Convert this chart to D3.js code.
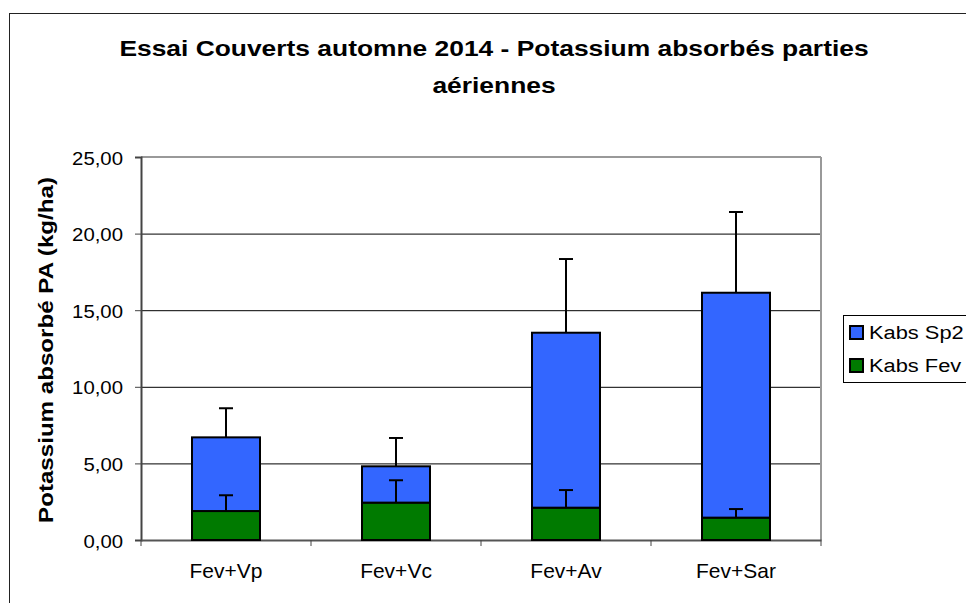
<!DOCTYPE html>
<html>
  <head>
    <meta charset="UTF-8">
    <script src="https://d3js.org/d3.v7.min.js"></script>
    <style>
      body { margin: 0; background: #fff; }
      #svg { display: block; font-family: "Liberation Sans", Arial, sans-serif; }
      .gridlines line { stroke: #000; }
      .gridlines .domain { stroke: none; }
    </style>
    <title>Essai Couverts automne 2014</title>
  </head>
  <body>
    <svg id="svg" width="966" height="603"></svg>
    <script>
      // data
      const categories = ["Fev+Vp", "Fev+Vc", "Fev+Av", "Fev+Sar"];
      const kabsFev = [1.89, 2.44, 2.11, 1.46];
      const kabsSp2 = [4.81, 2.37, 11.42, 14.68];
      const errFev = [1.03, 1.46, 1.15, 0.56];
      const errSp2 = [1.90, 1.85, 4.81, 5.27];
      const yTicks = [0, 5, 10, 15, 20, 25];
      const seriesNames = ["Kabs Sp2", "Kabs Fev"];
      const seriesColors = ["#3366ff", "#007a00"];

      const svg = d3.select("svg#svg");
      const margin = {left: 141, top: 157, right: 821, bottom: 540};
      const FONT = "Liberation Sans, Arial, sans-serif";

      // outer chart frame
      svg.append("rect")
        .attr("x", 9.5).attr("y", 13.5)
        .attr("width", 980).attr("height", 620)
        .attr("fill", "none").attr("stroke", "#222").attr("stroke-width", 1);

      const xScale = d3.scaleBand().domain(categories).range([margin.left, margin.right]).padding(0);
      const yScale = d3.scaleLinear().domain([0, 25]).range([margin.bottom, margin.top]);
      const barW = 68;

      // gridlines
      svg.append("g")
        .attr("class", "gridlines")
        .attr("transform", "translate(" + margin.left + ",0)")
        .call(d3.axisLeft(yScale).tickValues(yTicks.slice(1, 5)).tickFormat("").tickSize(-(margin.right - margin.left)));

      // plot border top / right (gray)
      svg.append("line").attr("x1", margin.left).attr("x2", margin.right)
        .attr("y1", yScale(25)).attr("y2", yScale(25)).attr("stroke", "#999").attr("stroke-width", 2);
      svg.append("line").attr("x1", margin.right).attr("x2", margin.right)
        .attr("y1", margin.top).attr("y2", margin.bottom).attr("stroke", "#999").attr("stroke-width", 2);

      // y axis
      const fmt = d => d3.format(".2f")(d).replace(".", ",");
      const yAxis = svg.append("g")
        .attr("transform", "translate(" + margin.left + ",0)")
        .call(d3.axisLeft(yScale).tickValues(yTicks).tickFormat(fmt).tickSize(6));
      yAxis.select(".domain").attr("stroke", "#444").attr("stroke-width", 2);
      yAxis.selectAll(".tick line").attr("stroke", "#444");
      yAxis.selectAll("text")
        .attr("x", -18 / 1.1).attr("dy", "0.38em")
        .attr("transform", "scale(1.1,1)")
        .style("font-size", "18.5px").attr("fill", "#000").style("font-family", FONT);

      // x axis
      const xAxis = svg.append("g")
        .attr("transform", "translate(0," + margin.bottom + ")")
        .call(d3.axisBottom(xScale).tickSize(0));
      xAxis.select(".domain").attr("stroke", "#555").attr("stroke-width", 2);
      xAxis.selectAll("text")
        .attr("y", 38).attr("dy", 0)
        .attr("transform", "scale(1.05,1)")
        .style("font-size", "20px").attr("fill", "#000").style("font-family", FONT);
      xAxis.selectAll(".tick").each(function(d) {
        d3.select(this).attr("transform", "translate(" + (xScale(d) + xScale.bandwidth() / 2) / 1 + ",0)");
        d3.select(this).select("text").attr("x", 0);
      });
      // category separator ticks
      xAxis.selectAll(".sep")
        .data(d3.range(categories.length + 1))
        .enter().append("line")
        .attr("x1", i => margin.left + i * xScale.bandwidth())
        .attr("x2", i => margin.left + i * xScale.bandwidth())
        .attr("y1", 0).attr("y2", 6)
        .attr("stroke", "#444");

      // stacked bars
      const plot = svg.append("g");
      const cx = d => xScale(d) + xScale.bandwidth() / 2;

      // Sp2 error bars
      categories.forEach((c, i) => {
        const top = kabsFev[i] + kabsSp2[i];
        plot.append("line").attr("x1", cx(c)).attr("x2", cx(c))
          .attr("y1", yScale(top)).attr("y2", yScale(top + errSp2[i]))
          .attr("stroke", "#000").attr("stroke-width", 2);
        plot.append("line").attr("x1", cx(c) - 7).attr("x2", cx(c) + 7)
          .attr("y1", yScale(top + errSp2[i])).attr("y2", yScale(top + errSp2[i]))
          .attr("stroke", "#000").attr("stroke-width", 2);
      });

      plot.selectAll("rect.fev")
        .data(categories)
        .enter().append("rect")
        .attr("class", "fev")
        .attr("x", d => cx(d) - barW / 2)
        .attr("width", barW)
        .attr("y", (d, i) => yScale(kabsFev[i]))
        .attr("height", (d, i) => yScale(0) - yScale(kabsFev[i]))
        .attr("fill", seriesColors[1]).attr("stroke", "#000").attr("stroke-width", 2);

      plot.selectAll("rect.sp2")
        .data(categories)
        .enter().append("rect")
        .attr("class", "sp2")
        .attr("x", d => cx(d) - barW / 2)
        .attr("width", barW)
        .attr("y", (d, i) => yScale(kabsFev[i] + kabsSp2[i]))
        .attr("height", (d, i) => yScale(kabsFev[i]) - yScale(kabsFev[i] + kabsSp2[i]))
        .attr("fill", seriesColors[0]).attr("stroke", "#000").attr("stroke-width", 2);

      // Fev error bars (drawn over the Sp2 bar)
      categories.forEach((c, i) => {
        plot.append("line").attr("x1", cx(c)).attr("x2", cx(c))
          .attr("y1", yScale(kabsFev[i])).attr("y2", yScale(kabsFev[i] + errFev[i]))
          .attr("stroke", "#000").attr("stroke-width", 2);
        plot.append("line").attr("x1", cx(c) - 7).attr("x2", cx(c) + 7)
          .attr("y1", yScale(kabsFev[i] + errFev[i])).attr("y2", yScale(kabsFev[i] + errFev[i]))
          .attr("stroke", "#000").attr("stroke-width", 2);
      });

      // title (glyphs are a bit wider in the original, hence the x-stretch)
      svg.append("text").attr("transform", "translate(494,56) scale(1.2,1)")
        .attr("text-anchor", "middle").style("font-size", "22px").style("font-weight", "bold")
        .text("Essai Couverts automne 2014 - Potassium absorbés parties");
      svg.append("text").attr("transform", "translate(494,93) scale(1.2,1)")
        .attr("text-anchor", "middle").style("font-size", "22px").style("font-weight", "bold")
        .text("aériennes");

      // y label
      svg.append("text")
        .attr("transform", "translate(53,350) rotate(-90) scale(1.15,1)")
        .attr("text-anchor", "middle").style("font-size", "21px").style("font-weight", "bold")
        .text("Potassium absorbé PA (kg/ha)");

      // legend
      const legend = svg.append("g").attr("transform", "translate(843,315)");
      legend.append("rect").attr("x", 0.5).attr("y", 0.5).attr("width", 140).attr("height", 67)
        .attr("fill", "#fff").attr("stroke", "#000").attr("stroke-width", 1);
      seriesNames.forEach((s, i) => {
        legend.append("rect").attr("x", 7).attr("y", 11 + i * 33).attr("width", 13).attr("height", 13)
          .attr("fill", seriesColors[i]).attr("stroke", "#000").attr("stroke-width", 2);
        legend.append("text").attr("transform", "translate(26," + (24 + i * 33) + ") scale(1.15,1)")
          .style("font-size", "19px").text(s);
      });
    </script>
  </body>
</html>
